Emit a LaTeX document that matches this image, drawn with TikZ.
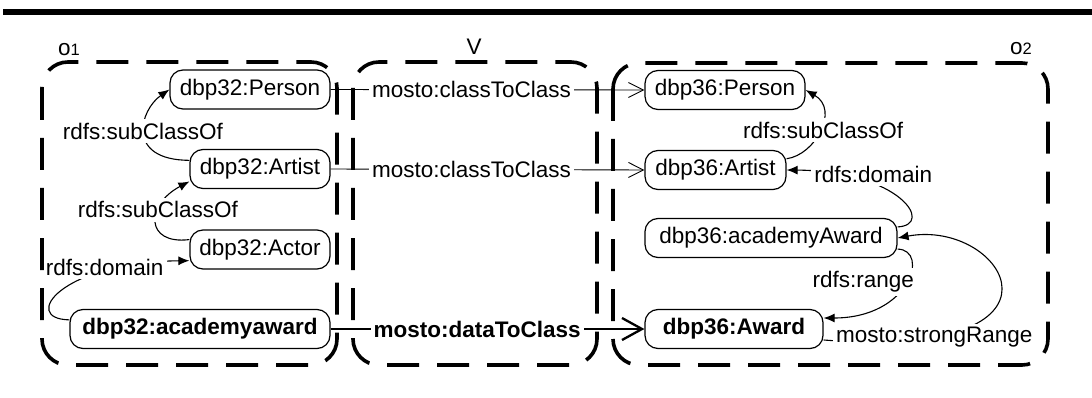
\documentclass[tikz,border=0pt]{standalone}
\usepackage{fontspec}
\setmainfont{Liberation Sans}
\usetikzlibrary{arrows.meta}
\begin{document}
\begin{tikzpicture}[x=1pt,y=1pt,
  font=\fontsize{22.5}{27}\selectfont,
  cls/.style={draw, line width=1.2pt, rounded corners=13pt, minimum height=39pt, inner sep=0pt},
  clsb/.style={cls, font=\fontsize{22.5}{27}\selectfont\bfseries},
  frame/.style={line width=3.6pt, dash pattern=on 32pt off 18pt, rounded corners=26pt},
  rel/.style={line width=1.1pt, -{Latex[length=11pt,width=9pt]}},
  map/.style={line width=0.9pt, -{Straight Barb[length=15pt,width=15pt]}},
  mapb/.style={line width=2.3pt, -{Straight Barb[length=20pt,width=22pt]}},
  elab/.style={fill=white, inner sep=3.5pt},
  mlab/.style={fill=white, inner xsep=3pt, inner ysep=1pt},
  ttl/.style={inner sep=0pt},
]
\useasboundingbox (0,0) rectangle (1092,-398);
% heading rule
\fill (3,-9) rectangle (1092,-15);

% ontology o1
\node[cls, minimum width=160pt] (p32)  at (250,-89.5) {dbp32:Person};
\node[cls, minimum width=140pt] (a32)  at (260,-169)  {dbp32:Artist};
\node[cls, minimum width=140pt] (ac32) at (260,-249.5) {dbp32:Actor};
\node[clsb, minimum width=260pt] (aa32) at (200,-329) {dbp32:academyaward};

% ontology o2
\node[cls, minimum width=160pt] (p36)  at (725,-90)    {dbp36:Person};
\node[cls, minimum width=141pt] (a36)  at (715.5,-170) {dbp36:Artist};
\node[cls, minimum width=252pt] (aa36) at (771,-238)   {dbp36:academyAward};
\node[clsb, minimum width=178pt] (aw36) at (734,-329)  {dbp36:Award};

% relations inside o1
\draw[rel] (a32.173) .. controls (125,-160) and (140,-110) ..
  node[elab, pos=.5, xshift=-1.4pt, yshift=1.5pt] {rdfs:subClassOf} (p32.west);
\draw[rel] (ac32.172) .. controls (145,-245) and (145,-205) ..
  node[elab, pos=.5, xshift=1.7pt, yshift=11.5pt] {rdfs:subClassOf} (a32.190);
\draw[rel] (aa32.176) .. controls (20,-319) and (60,-262) ..
  node[elab, pos=.75, xshift=-4.4pt, yshift=3pt] {rdfs:domain} (ac32.189);

% relations inside o2
\draw[rel] (a36.9) .. controls (815,-155) and (840,-110) ..
  node[elab, pos=.5, xshift=3.5pt, yshift=0.4pt] {rdfs:subClassOf} (p36.east);
\draw[rel] (aa36.5) .. controls (935,-225) and (900,-171) ..
  node[elab, pos=.75, xshift=16.2pt, yshift=4.9pt] {rdfs:domain} (a36.east);
\draw[rel] (aa36.355) .. controls (930,-250) and (910,-318) ..
  node[elab, pos=.5, xshift=-42pt, yshift=1.9pt] {rdfs:range} (aw36.7);
\draw[rel] (aw36.353) .. controls (1090,-360) and (1005,-218) ..
  node[elab, pos=.2, xshift=-9.7pt, yshift=-2pt] {mosto:strongRange} (aa36.east);

% mappings in V
\draw[map] (p32.east) -- node[mlab, pos=.449] {mosto:classToClass} (p36.west);
\draw[map] (a32.east) -- node[mlab, pos=.449] {mosto:classToClass} (a36.west);
\draw[mapb] (aa32.east) -- node[mlab, pos=.467, font=\fontsize{22.5}{27}\selectfont\bfseries] {mosto:dataToClass} (aw36.west);

% dashed frames and their titles
\draw[frame] (42,-62) rectangle (337,-365);
\draw[frame] (353,-62) rectangle (597,-365);
\draw[frame] (613,-63) rectangle (1048,-365);
\node[ttl, anchor=base west] (t1) at (58,-56) {o{\fontsize{16.5}{18}\selectfont 1}};
\node[ttl, anchor=base] (tv) at (474,-55) {V};
\node[ttl, anchor=base west] (t2) at (1010,-55) {o{\fontsize{16.5}{18}\selectfont 2}};
\end{tikzpicture}
\end{document}
